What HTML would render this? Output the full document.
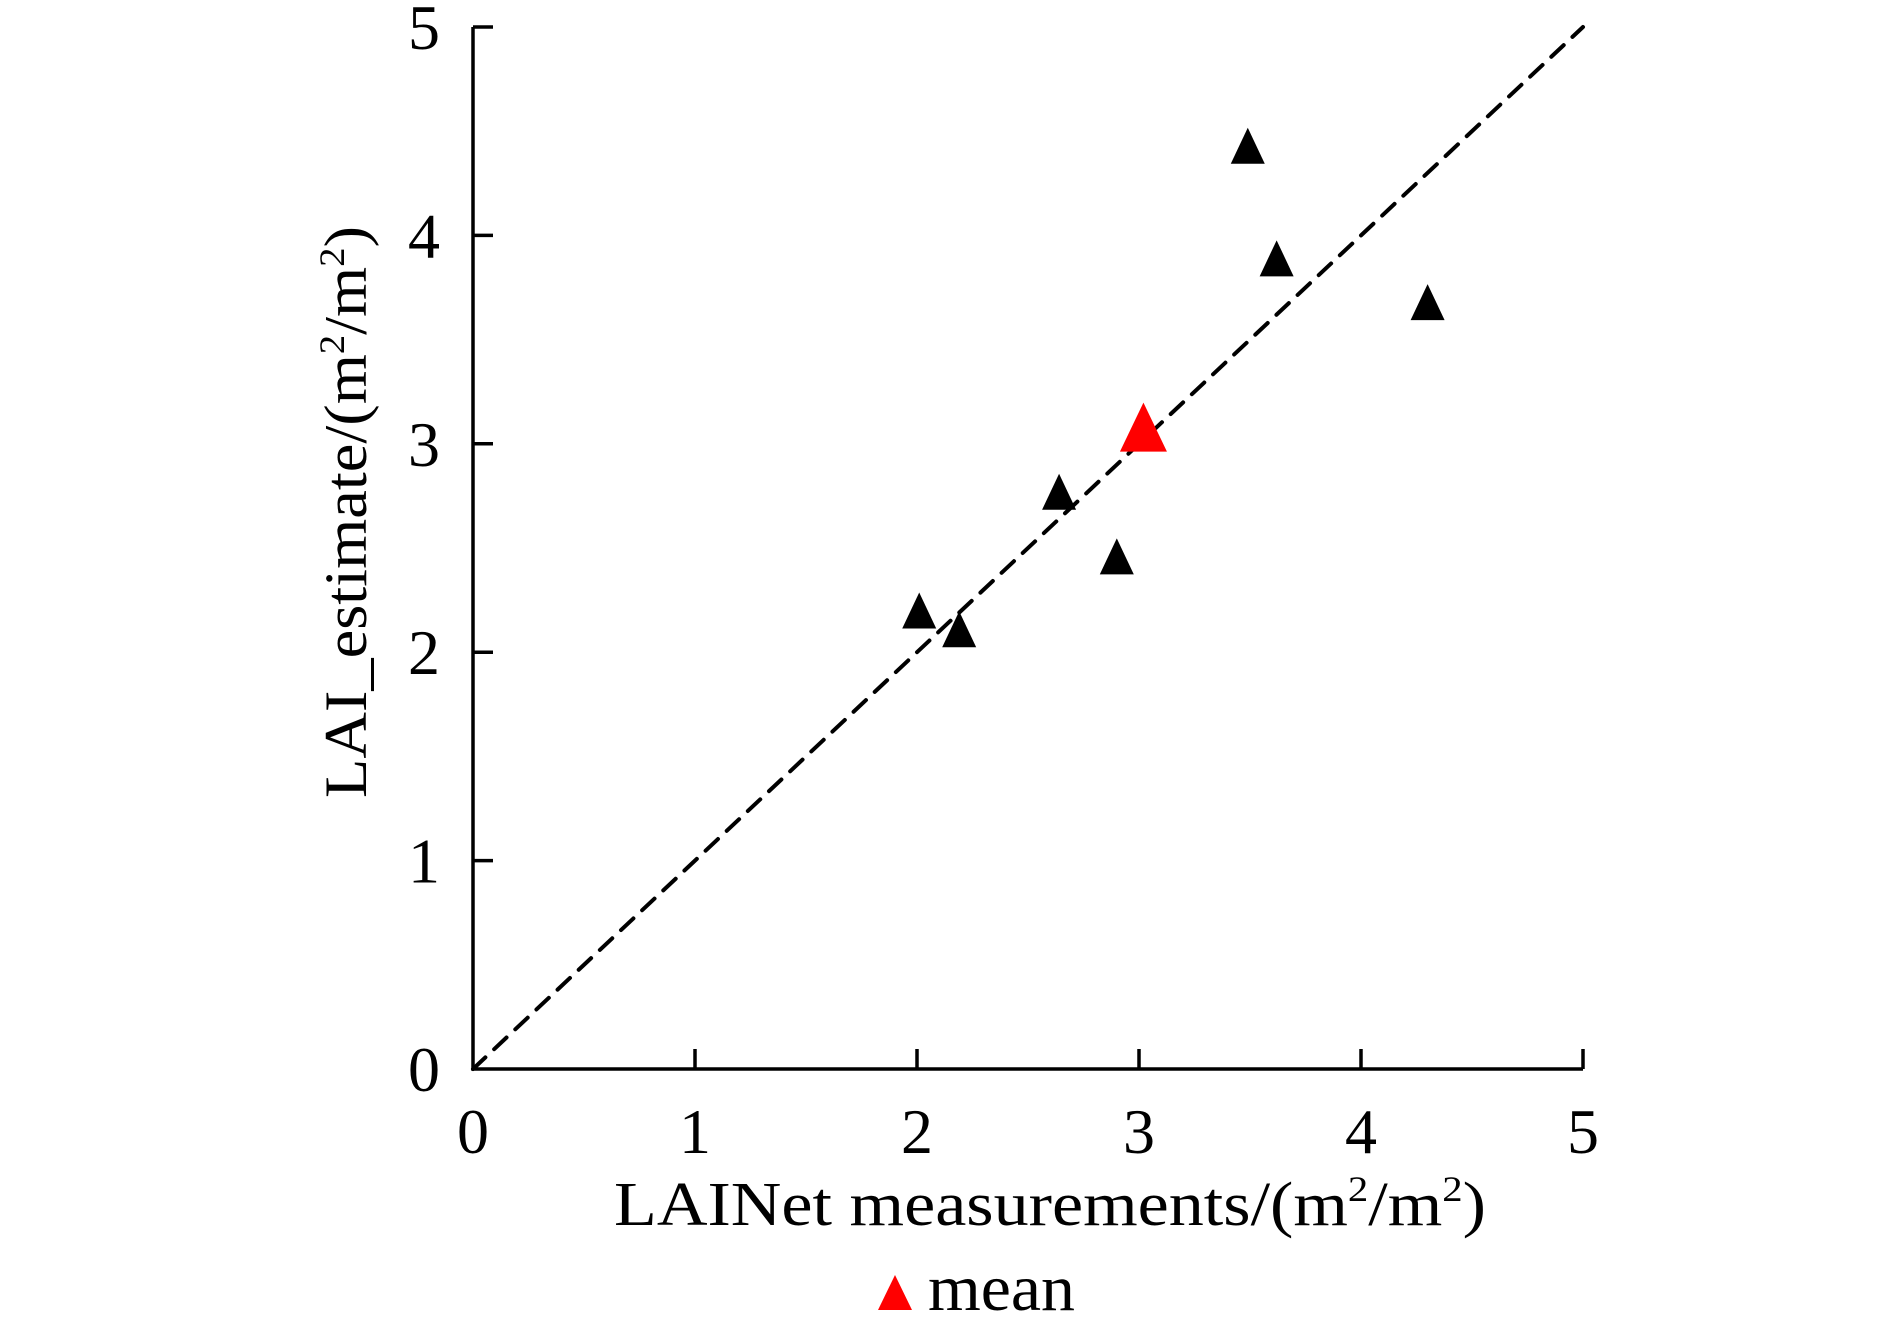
<!DOCTYPE html>
<html><head><meta charset="utf-8"><style>
html,body{margin:0;padding:0;background:#fff;}
svg{display:block;font-family:"Liberation Serif","Times New Roman",serif;}
</style></head><body>
<svg id="chart" width="1890" height="1324" viewBox="0 0 1890 1324" xmlns="http://www.w3.org/2000/svg">
<g id="axes"></g>
<g id="marks"></g>
<text transform="translate(366,512) rotate(-90)" text-anchor="middle" font-size="60" textLength="572" lengthAdjust="spacingAndGlyphs">LAI_estimate/(m<tspan font-size="36" dy="-22">2</tspan><tspan dy="22">/m</tspan><tspan font-size="36" dy="-22">2</tspan><tspan dy="22">)</tspan></text>
<text x="1050" y="1225" text-anchor="middle" font-size="62" textLength="872" lengthAdjust="spacingAndGlyphs">LAINet measurements/(m<tspan font-size="36" dy="-24">2</tspan><tspan dy="24">/m</tspan><tspan font-size="36" dy="-24">2</tspan><tspan dy="24">)</tspan></text>
<g>
<polygon points="895,1275 912,1310 878,1310" fill="#ff0000"/>
<text x="928" y="1310" font-size="66" textLength="147" lengthAdjust="spacingAndGlyphs">mean</text>
</g>
</svg>
<script>
const xTicks = [0,1,2,3,4,5];
const yTicks = [0,1,2,3,4,5];
const ptX = [2.01, 2.19, 2.64, 2.90, 3.49, 3.62, 4.30];
const ptY = [2.20, 2.11, 2.77, 2.46, 4.43, 3.89, 3.68];
const meanX = [3.02];
const meanY = [3.08];

const NS = "http://www.w3.org/2000/svg";
const x0 = 473, x1 = 1583, y0 = 1069, y1 = 27;
function sx(v){ return x0 + (v - 0) / 5 * (x1 - x0); }
function sy(v){ return y0 - (v - 0) / 5 * (y0 - y1); }
function mk(tag, attrs, parent){
  const e = document.createElementNS(NS, tag);
  for (const k in attrs) e.setAttribute(k, attrs[k]);
  parent.appendChild(e);
  return e;
}
const axes = document.getElementById('axes');
const marks = document.getElementById('marks');

let ax = mk('path', {d:`M${x0},${y1} L${x0},${y0} L${x1},${y0}`, fill:'none', stroke:'#000', 'stroke-width':3.5}, axes);



xTicks.forEach(t => {
  const X = sx(t);
  if (t > 0) {
    const l = mk('line', {x1:X, y1:y0, x2:X, y2:y0-20, stroke:'#000', 'stroke-width':3.5}, axes);
    
    
  }
  const tx = mk('text', {x:X, y:1153, 'text-anchor':'middle', 'font-size':64}, axes);
  tx.textContent = String(t);
  
  
});
yTicks.forEach(t => {
  const Y = sy(t);
  if (t > 0) {
    const l = mk('line', {x1:x0, y1:Y, x2:x0+20, y2:Y, stroke:'#000', 'stroke-width':3.5}, axes);
    
    
  }
  const tx = mk('text', {x:440, y:Y+22, 'text-anchor':'end', 'font-size':64}, axes);
  tx.textContent = String(t);
  
  
});

const ref = mk('line', {x1:sx(0), y1:sy(0), x2:sx(5), y2:sy(5), stroke:'#000', 'stroke-width':4, 'stroke-dasharray':'17 12', 'stroke-linecap':'round'}, marks);



function tri(cx, cy, w, h){
  return `${cx},${cy-h/2} ${cx+w/2},${cy+h/2} ${cx-w/2},${cy+h/2}`;
}
ptX.forEach((v, i) => {
  const p = mk('polygon', {points: tri(sx(v), sy(ptY[i]), 34, 36), fill:'#000'}, marks);
  
  
});
meanX.forEach((v, i) => {
  const p = mk('polygon', {points: tri(sx(v), sy(meanY[i]), 47, 49), fill:'#ff0000'}, marks);
  
  
});
</script>
</body></html>
